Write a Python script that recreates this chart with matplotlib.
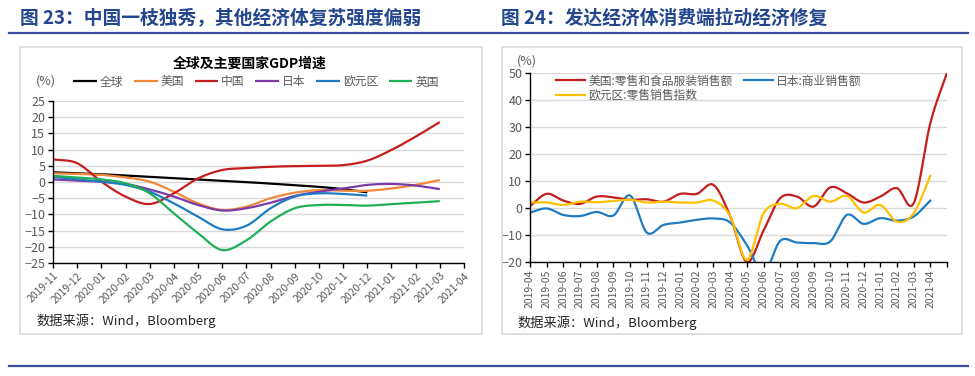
import numpy as np
import matplotlib
matplotlib.use("Agg")
import matplotlib.pyplot as plt
from matplotlib.patches import Rectangle
from matplotlib.lines import Line2D

plt.rcParams['font.family'] = ['Noto Sans CJK SC', 'DejaVu Sans']

# ---------------- data: left chart (GDP growth, %) ----------------
left_months = ["2019-11", "2019-12", "2020-01", "2020-02", "2020-03", "2020-04",
               "2020-05", "2020-06", "2020-07", "2020-08", "2020-09", "2020-10",
               "2020-11", "2020-12", "2021-01", "2021-02", "2021-03", "2021-04"]
gdp_global = [3.0, 2.7, 2.4, 2.0, 1.6, 1.2, 0.8, 0.4, 0.0, -0.5, -1.0, -1.5, -2.2, -3.2]
gdp_us = [2.7, 2.5, 2.2, 1.4, 0.1, -3.0, -6.6, -8.6, -7.6, -5.0, -3.3, -2.5, -2.7, -2.7, -2.0, -0.9, 0.6]
gdp_china = [7.0, 5.8, 0.1, -4.5, -6.8, -3.5, 1.1, 3.7, 4.3, 4.7, 4.9, 5.0, 5.2, 6.6, 9.9, 14.0, 18.5]
gdp_japan = [0.8, 0.4, 0.1, -0.6, -2.3, -4.5, -7.1, -8.8, -8.1, -6.4, -4.3, -3.0, -2.0, -0.9, -0.6, -1.1, -2.2]
gdp_euro = [1.6, 0.8, 0.1, -0.9, -3.0, -6.6, -10.7, -14.6, -13.5, -8.1, -4.5, -3.5, -3.7, -4.2]
gdp_uk = [1.9, 1.4, 0.8, -0.4, -3.5, -9.7, -15.8, -21.0, -18.0, -12.2, -8.1, -7.1, -7.1, -7.3, -6.8, -6.4, -5.9]
left_names = ["全球", "美国", "中国", "日本", "欧元区", "英国"]
left_yticks = [-25, -20, -15, -10, -5, 0, 5, 10, 15, 20, 25]

# ---------------- data: right chart (retail sales yoy, %) ----------------
right_months = ["2019-04", "2019-05", "2019-06", "2019-07", "2019-08", "2019-09",
                "2019-10", "2019-11", "2019-12", "2020-01", "2020-02", "2020-03",
                "2020-04", "2020-05", "2020-06", "2020-07", "2020-08", "2020-09",
                "2020-10", "2020-11", "2020-12", "2021-01", "2021-02", "2021-03", "2021-04"]
us_retail = [0.7, 5.2, 2.7, 1.5, 4.2, 3.9, 3.0, 3.2, 2.3, 5.2, 5.2, 8.5, -3.0, -20.0,
             -8.4, 3.6, 4.2, 0.5, 7.6, 5.4, 2.0, 4.2, 7.3, 1.7, 31.3, 50.0]
jp_sales = [-1.7, -0.2, -2.6, -3.0, -1.5, -2.8, 4.6, -9.1, -6.3, -5.4, -4.4, -3.9, -5.4,
            -13.7, -24.0, -12.2, -12.8, -13.0, -12.4, -2.6, -5.9, -3.8, -4.7, -3.2, 2.7]
ez_retail = [2.0, 2.0, 1.1, 2.3, 2.1, 2.6, 3.0, 2.0, 2.3, 2.0, 2.0, 2.7, -3.0, -19.2,
             -2.0, 1.5, -0.1, 4.4, 2.3, 4.4, -1.7, 1.1, -5.1, -2.0, 11.8]
right_names = ["美国:零售和食品服装销售额", "日本:商业销售额", "欧元区:零售销售指数"]
right_yticks = [-20, -10, 0, 10, 20, 30, 40, 50]

TXT = '#595959'
GRID = '#D9D9D9'


def smooth(ys, n=24):
    """Catmull-Rom smoothing similar to a spreadsheet 'smoothed line'."""
    xs = np.arange(len(ys), dtype=float)
    pts = np.column_stack([xs, np.asarray(ys, dtype=float)])
    P = np.vstack([2 * pts[0] - pts[1], pts, 2 * pts[-1] - pts[-2]])
    out = []
    t = np.linspace(0, 1, n, endpoint=False)[:, None]
    for i in range(1, len(P) - 2):
        p0, p1, p2, p3 = P[i - 1], P[i], P[i + 1], P[i + 2]
        seg = 0.5 * ((2 * p1) + (-p0 + p2) * t + (2 * p0 - 5 * p1 + 4 * p2 - p3) * t ** 2
                     + (-p0 + 3 * p1 - 3 * p2 + p3) * t ** 3)
        out.append(seg)
    out.append(pts[-1:])
    s = np.vstack(out)
    return s[:, 0], s[:, 1]


W, H = 975, 376
fig = plt.figure(figsize=(W / 100, H / 100), dpi=100)


def fx(px):
    return px / W


def fy(py):
    return 1 - py / H


# header titles and rules
title_color = '#24468E'
fig.text(fx(20), fy(18), "图 23：中国一枝独秀，其他经济体复苏强度偏弱", fontsize=13.5,
         fontweight='bold', color=title_color, va='center', ha='left')
fig.text(fx(501), fy(18), "图 24：发达经济体消费端拉动经济修复", fontsize=13.5,
         fontweight='bold', color=title_color, va='center', ha='left')
fig.add_artist(Line2D([fx(9), fx(968)], [fy(32.5), fy(32.5)], color='#3D4DA3', lw=1.6))
fig.add_artist(Line2D([fx(9), fx(968)], [fy(366), fy(366)], color='#3D4DA3', lw=1.6))

# panel boxes
fig.add_artist(Rectangle((fx(19.5), fy(334)), fx(482) - fx(19.5), fy(46.5) - fy(334),
                         fill=False, edgecolor='#DADADA', lw=1.2))
fig.add_artist(Rectangle((fx(502), fy(334)), fx(961.5) - fx(502), fy(46.5) - fy(334),
                         fill=False, edgecolor='#DADADA', lw=1.2))

# ---------------- left chart ----------------
ax1 = fig.add_axes([fx(53), fy(263), fx(464) - fx(53), fy(101) - fy(263)])
left_series = [gdp_global, gdp_us, gdp_china, gdp_japan, gdp_euro, gdp_uk]
left_colors = ['#000000', '#F0883A', '#C41E1E', '#7A3BA6', '#1F7CC4', '#1FAF55']
for ys, c, name in zip(left_series, left_colors, left_names):
    sx, sy = smooth(ys)
    ax1.plot(sx, sy, color=c, lw=1.6, label=name, solid_capstyle='butt')
ax1.set_xlim(0, len(left_months) - 1)
ax1.set_ylim(-25, 25)
ax1.set_yticks(left_yticks)
ax1.set_xticks(range(len(left_months)))
ax1.set_xticklabels(left_months, rotation=45, ha='right', rotation_mode='anchor')
ax1.grid(axis='y', color=GRID, lw=1.0)
ax1.set_axisbelow(True)
for s in ['top', 'right']:
    ax1.spines[s].set_visible(False)
for s in ['left', 'bottom']:
    ax1.spines[s].set_color('#000000')
    ax1.spines[s].set_linewidth(1.0)
ax1.tick_params(axis='both', direction='out', length=3.5, width=1.0, colors='#000000',
                labelcolor=TXT)
ax1.tick_params(axis='y', labelsize=9, pad=2)
ax1.tick_params(axis='x', labelsize=7.5, pad=2)
fig.text(fx(250), fy(64), "全球及主要国家GDP增速", fontsize=10, fontweight='bold',
         color='#000000', ha='center', va='center')
fig.text(fx(36), fy(81), "(%)", fontsize=9, color=TXT, ha='left', va='center')
leg1 = ax1.legend(loc='center', bbox_to_anchor=(fx(256), fy(82)), bbox_transform=fig.transFigure,
                  ncol=6, frameon=False, fontsize=8.5, handlelength=2.0, handletextpad=0.25,
                  columnspacing=0.9, labelcolor=TXT)
fig.text(fx(36), fy(321), "数据来源：Wind，Bloomberg", fontsize=9.5, color='#262626',
         ha='left', va='center')

# ---------------- right chart ----------------
ax2 = fig.add_axes([fx(530), fy(262), fx(947) - fx(530), fy(72.7) - fy(262)])
sx, sy = smooth(us_retail)
l_us, = ax2.plot(sx, sy, color='#C41E1E', lw=1.6, label=right_names[0])
sx, sy = smooth(jp_sales)
l_jp, = ax2.plot(sx, sy, color='#1F7CC4', lw=1.6, label=right_names[1])
sx, sy = smooth(ez_retail)
l_ez, = ax2.plot(sx, sy, color='#FFC000', lw=1.6, label=right_names[2])
ax2.set_xlim(0, len(right_months))
ax2.set_ylim(-20, 50)
ax2.set_yticks(right_yticks)
ax2.set_xticks(range(len(right_months) + 1))
ax2.set_xticklabels(right_months + [""], rotation=90, ha='center', va='top')
ax2.grid(axis='y', color=GRID, lw=1.0)
ax2.set_axisbelow(True)
for s in ['top', 'right']:
    ax2.spines[s].set_visible(False)
for s in ['left', 'bottom']:
    ax2.spines[s].set_color('#000000')
    ax2.spines[s].set_linewidth(1.0)
ax2.tick_params(axis='both', direction='out', length=3.5, width=1.0, colors='#000000',
                labelcolor=TXT)
ax2.tick_params(axis='y', labelsize=9, pad=2)
ax2.tick_params(axis='x', labelsize=7.5, pad=2)
fig.text(fx(527), fy(61), "(%)", fontsize=9, color=TXT, ha='center', va='center')
ax2.legend([l_us, l_ez, l_jp], [right_names[0], right_names[2], right_names[1]],
           loc='upper left', bbox_to_anchor=(fx(554), fy(72)), bbox_transform=fig.transFigure,
           ncol=2, frameon=False, fontsize=8.5, handlelength=2.4, handletextpad=0.3,
           columnspacing=1.0, labelspacing=0.15, borderaxespad=0, borderpad=0.2,
           labelcolor=TXT)
fig.text(fx(517), fy(323), "数据来源：Wind，Bloomberg", fontsize=9.5, color='#262626',
         ha='left', va='center')

fig.savefig("out.png", dpi=100)
